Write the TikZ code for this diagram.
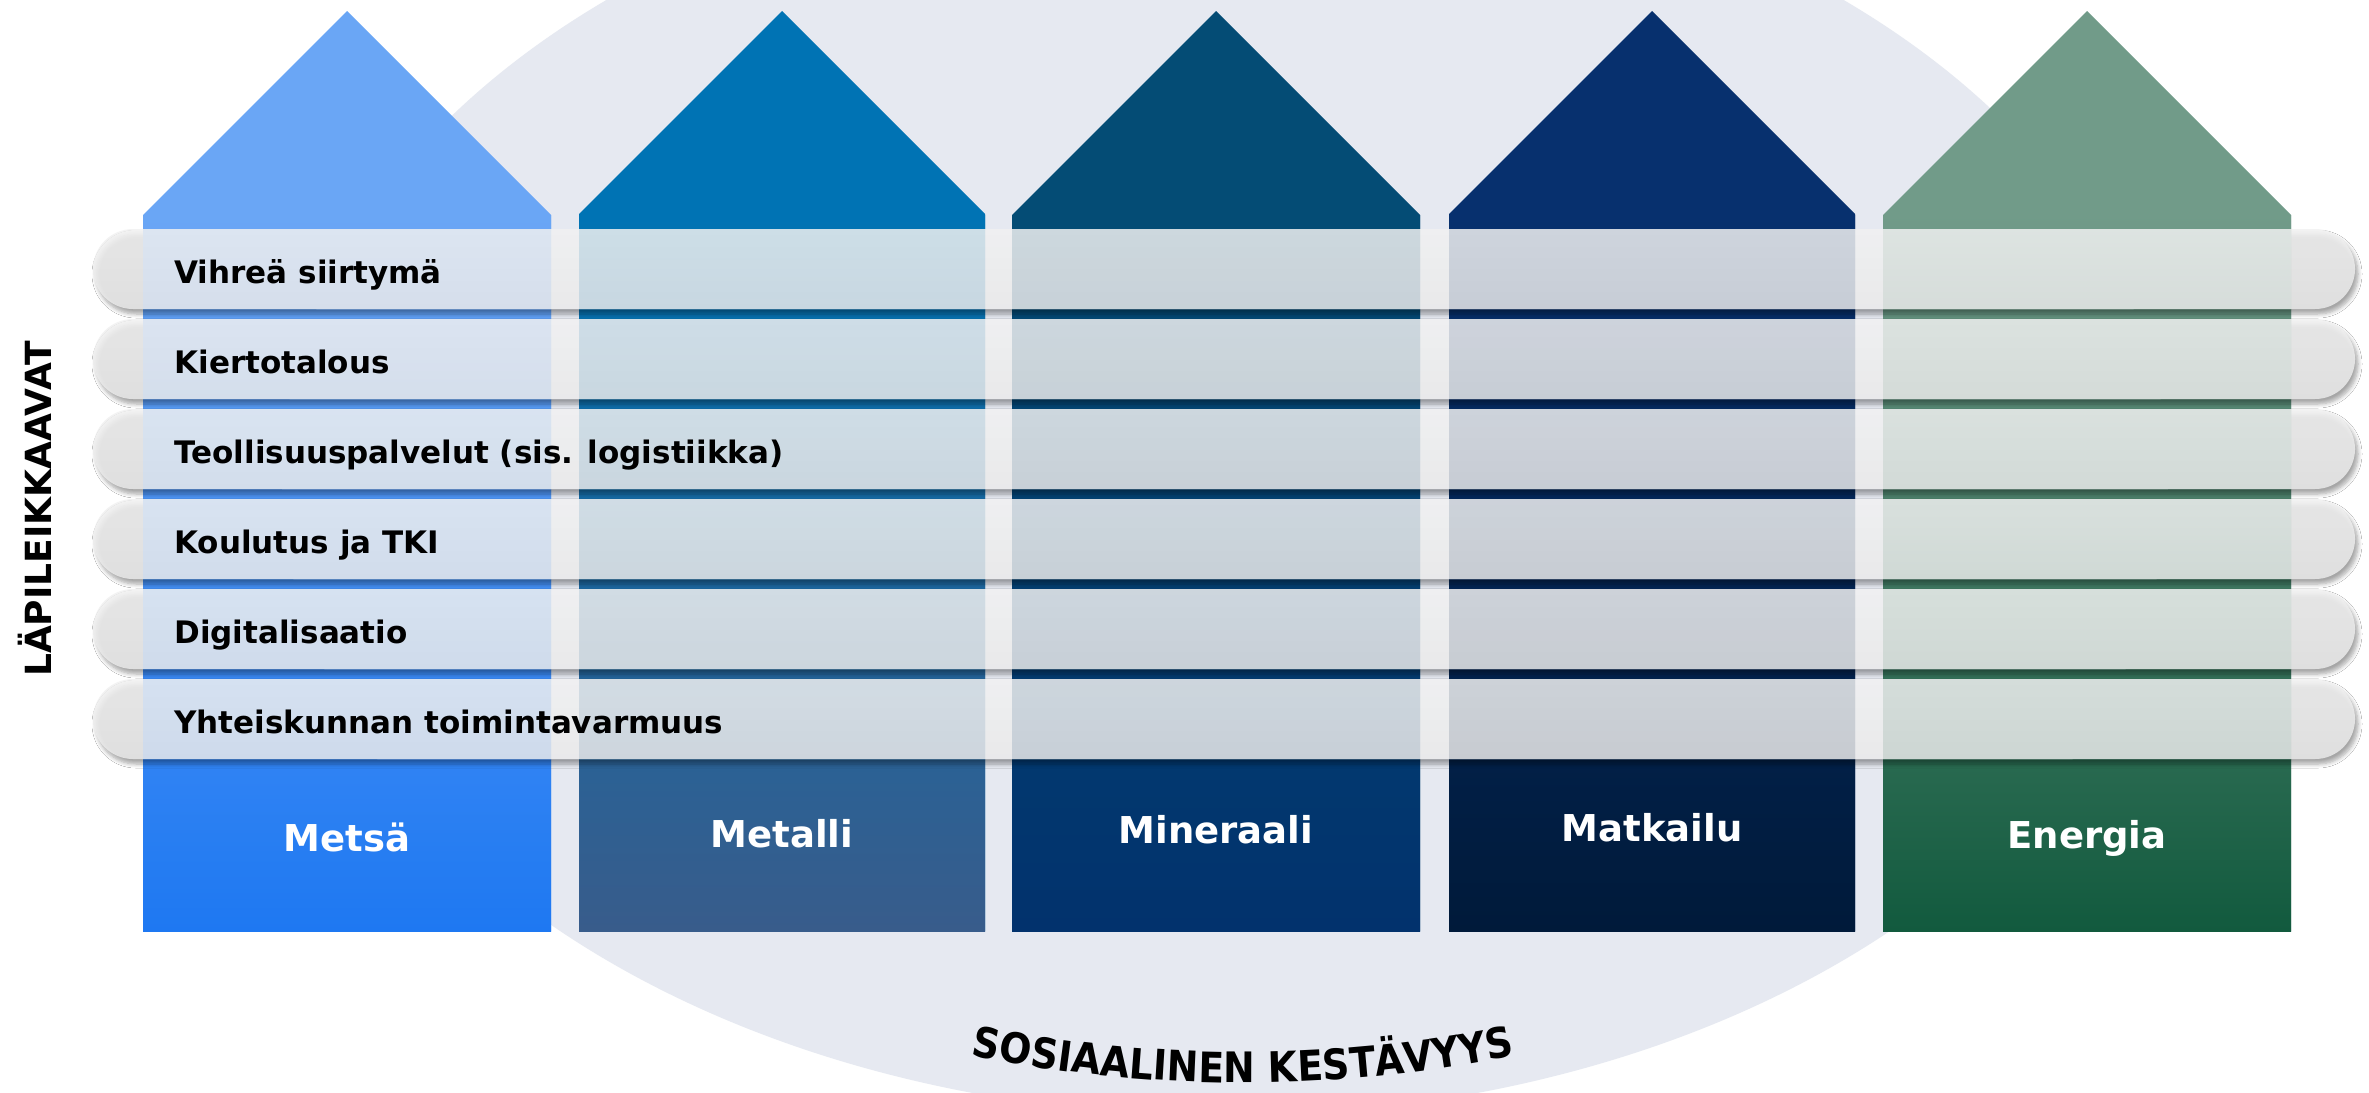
\documentclass[tikz,border=0pt]{standalone}
\usepackage{fontspec}
\setmainfont{DejaVu Sans}
\newfontfamily\sosfont{DejaVu Sans}[FakeStretch=0.9]
\usetikzlibrary{shadows.blur,decorations.text}
\definecolor{bgc}{HTML}{E6E9F1}
\definecolor{mAr}{HTML}{6AA6F5}\definecolor{mAb}{HTML}{1E78F2}
\definecolor{mBr}{HTML}{0073B4}\definecolor{mBb}{HTML}{385C8B}
\definecolor{mCr}{HTML}{044C75}\definecolor{mCb}{HTML}{02326D}
\definecolor{mDr}{HTML}{07306E}\definecolor{mDb}{HTML}{001A3A}
\definecolor{mEr}{HTML}{719B89}\definecolor{mEb}{HTML}{125A3E}
\definecolor{bandtop}{HTML}{F1F1F1}
\definecolor{bandbot}{HTML}{EAEAEA}
\newcommand{\basedraw}{%
  \fill[bgc] (1225,-480) ellipse[x radius=943, y radius=636];
  \foreach \xl/\xr/\colr/\colb in {143/551/mAr/mAb, 579/985/mBr/mBb, 1012/1420/mCr/mCb, 1449/1855/mDr/mDb, 1883/2291/mEr/mEb}{%
    \pgfmathsetmacro{\xa}{(\xl+\xr)/2}%
    \pgfmathsetmacro{\ys}{-11-(\xr-\xl)/2}%
    \fill[\colr] (\xl,-931) -- (\xl,\ys) -- (\xa,-11) -- (\xr,\ys) -- (\xr,-931) -- cycle;
    \shade[top color=\colr, bottom color=\colb] (\xl,-215) rectangle (\xr,-931);
  }}
\begin{document}
\begin{tikzpicture}[x=0.5pt, y=0.5pt,
  bandtext/.style={anchor=base west, font=\fontsize{15.5}{18}\selectfont\bfseries, text=black, inner sep=0pt},
  houselabel/.style={anchor=base, font=\fontsize{18.5}{22}\selectfont\bfseries, text=white, inner sep=0pt},
  bandshadow/.style={blur shadow={shadow xshift=1.5pt, shadow yshift=-2.5pt, shadow blur radius=2pt, shadow blur steps=6, shadow opacity=35}},
  bandfill/.style={top color=bandtop, bottom color=bandbot, fill opacity=0.85}]
\useasboundingbox (0,0) rectangle (2369,-1092);
\clip (0,0) rectangle (2369,-1092);
\fill[white] (0,0) rectangle (2369,-1092);
\basedraw
% band shadows
\foreach \k in {0,...,5}{%
  \path[bandshadow, rounded corners=20pt] (93,{-229-90*\k}) rectangle (2355,{-309-90*\k});
}
% restore base under bands
\begin{scope}
  \clip[rounded corners=20pt] (93,-229) rectangle (2355,-309) (93,-319) rectangle (2355,-399)
    (93,-409) rectangle (2355,-489) (93,-499) rectangle (2355,-579)
    (93,-589) rectangle (2355,-669) (93,-679) rectangle (2355,-759);
  \basedraw
\end{scope}
% bands
\foreach \k in {0,...,5}{%
  \shade[bandfill, rounded corners=20pt] (93,{-229-90*\k}) rectangle (2355,{-309-90*\k});
}
\foreach \k/\t in {0/Vihreä siirtymä, 1/Kiertotalous, 2/Teollisuuspalvelut (sis. logistiikka), 3/Koulutus ja TKI, 4/Digitalisaatio, 5/Yhteiskunnan toimintavarmuus}{%
  \node[bandtext] (b\k) at (174,{-283-90*\k}) {\t};
}
% house labels
\node[houselabel] (metsa) at (347,-851) {Metsä};
\node[houselabel] (metalli) at (782,-847) {Metalli};
\node[houselabel] (mineraali) at (1216,-843) {Mineraali};
\node[houselabel] (matkailu) at (1652,-841) {Matkailu};
\node[houselabel] (energia) at (2087,-848) {Energia};
% side title
\node[anchor=base, rotate=90, font=\fontsize{18}{22}\selectfont\bfseries, inner sep=0pt] (lapi) at (51,-509) {LÄPILEIKKAAVAT};
% curved bottom title
\path[decorate, decoration={text along path, text align=center,
  text={|\sosfont\fontsize{21}{23}\selectfont\bfseries|SOSIAALINEN KESTÄVYYS}}]
  (781.3,-1001.6) arc[start angle=250, end angle=290, radius=1350];
\end{tikzpicture}
\end{document}
